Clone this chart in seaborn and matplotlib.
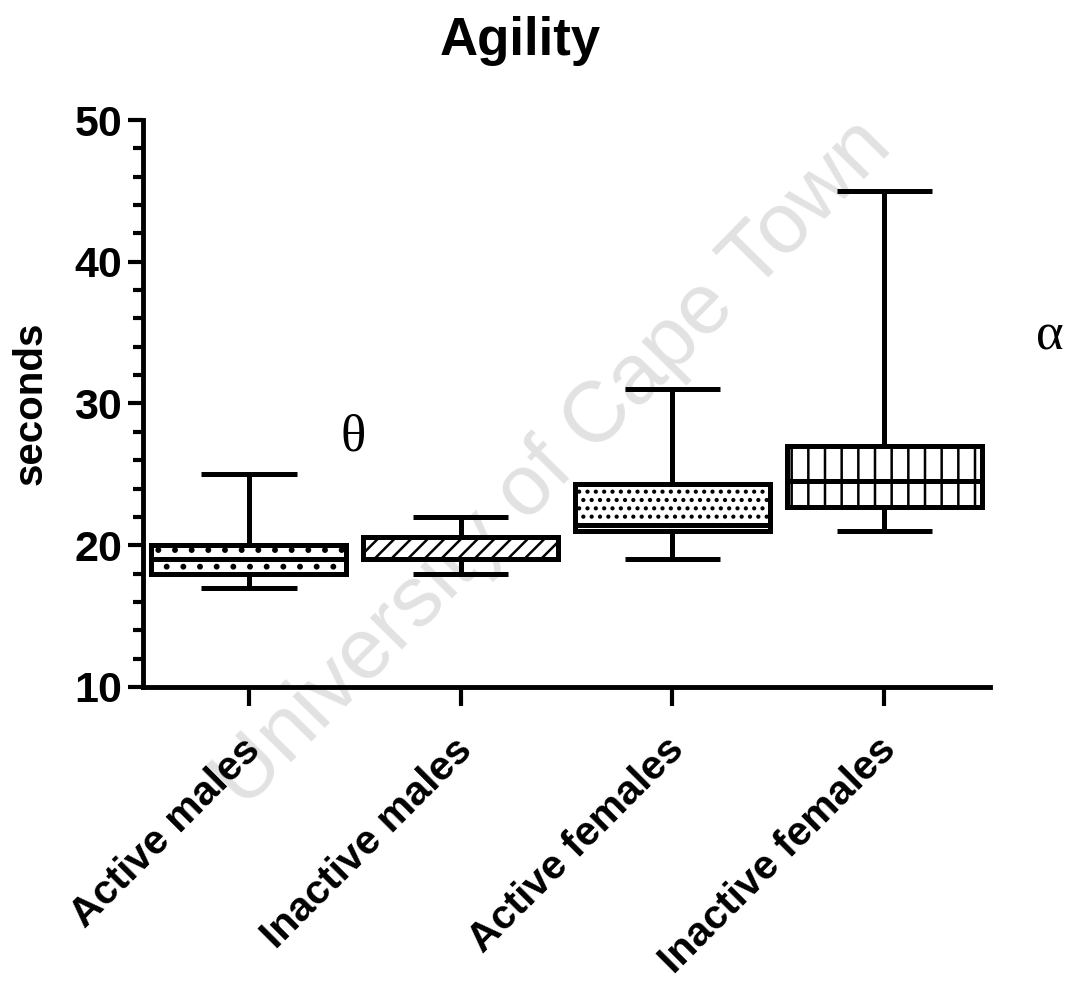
import numpy as np
import pandas as pd
import matplotlib
matplotlib.use("Agg")
import matplotlib.pyplot as plt
from matplotlib.ticker import MultipleLocator
from matplotlib.transforms import ScaledTranslation
import seaborn as sns

# ---- data (min, Q1, median, Q3, max per group) ----
groups = ["Active males", "Inactive males", "Active females", "Inactive females"]
mins = [17.0, 18.0, 19.0, 21.0]
q1s = [18.0, 19.0, 21.0, 22.7]
medians = [19.0, 19.0, 21.4, 24.5]
q3s = [20.0, 20.6, 24.3, 27.0]
maxs = [25.0, 22.0, 31.0, 45.0]
hatches = [".", "//", "..", "|"]
title = "Agility"
ylabel = "seconds"
yticks = [10, 20, 30, 40, 50]

rows = []
for g, a, b, c, d, e in zip(groups, mins, q1s, medians, q3s, maxs):
    for v in (a, b, c, d, e):
        rows.append({"group": g, "seconds": v})
df = pd.DataFrame(rows)

sns.set_style("ticks")
plt.rcParams["font.family"] = ["Liberation Sans", "DejaVu Sans"]
plt.rcParams["hatch.linewidth"] = 1.8
plt.rcParams["hatch.color"] = "black"
for k in ("text.color", "axes.labelcolor", "xtick.color", "ytick.color",
          "axes.edgecolor"):
    plt.rcParams[k] = "black"

fig = plt.figure(figsize=(10.75, 9.88), dpi=100)
ax = fig.add_axes([0.133, 0.3047, 0.788, 0.5738])

# watermark (behind the boxes)
ax.text(0.515, 0.53, "University of Cape Town", rotation=45.5,
        fontsize=62, color="#e2e2e2", ha="center", va="center",
        rotation_mode="anchor", transform=fig.transFigure, zorder=0.5,
        clip_on=False)

sns.boxplot(data=df, x="group", y="seconds", order=groups, whis=(0, 100),
            width=0.92, linewidth=3.6, color="white", linecolor="black",
            ax=ax)

for p, h in zip(ax.patches, hatches):
    p.set_hatch(h)
    p.set_edgecolor("black")
    p.set_facecolor("white")
    p.set_zorder(3)

# cap widths: half the box width
for ln in ax.lines:
    xd = np.asarray(ln.get_xdata(), dtype=float)
    yd = np.asarray(ln.get_ydata(), dtype=float)
    if len(xd) == 2 and yd[0] == yd[1]:
        cx = xd.mean()
        half = abs(xd[1] - xd[0]) / 2
        if half < 0.4:
            ln.set_xdata([cx - 0.225, cx + 0.225])
    ln.set_solid_capstyle("butt")
    ln.set_color("black")
    ln.set_zorder(4)

ax.set_ylim(10, 50)
ax.set_xlim(-0.5, 3.5)
ax.set_yticks(yticks)
ax.yaxis.set_minor_locator(MultipleLocator(2))
ax.tick_params(axis="y", which="major", length=11, width=3, labelsize=31,
               pad=4, direction="out")
ax.tick_params(axis="y", which="minor", length=7, width=3, direction="out")
ax.tick_params(axis="x", which="major", length=14, width=3, labelsize=29.5,
               pad=8, direction="out")
for lab in ax.get_yticklabels():
    lab.set_fontweight("bold")
ax.set_xticks(range(len(groups)))
ax.set_xticklabels(groups, rotation=45, ha="right", rotation_mode="anchor",
                   fontweight="bold")
off = ScaledTranslation(-0.08, -0.13, fig.dpi_scale_trans)
for lab in ax.get_xticklabels():
    lab.set_transform(lab.get_transform() + off)
ax.set_xlabel("")
ax.set_ylabel(ylabel, fontsize=29, fontweight="bold", labelpad=18)
fig.text(0.484, 0.958, title, fontsize=38, fontweight="bold",
         ha="center", va="center")

sns.despine(ax=ax)
for s in ("left", "bottom"):
    ax.spines[s].set_linewidth(3.5)

ax.text(0.49, 27.6, "θ", fontsize=38, family=["Liberation Serif", "DejaVu Serif"],
        ha="center", va="center")
ax.text(3.78, 34.7, "α", fontsize=38, family=["Liberation Serif", "DejaVu Serif"],
        ha="center", va="center", clip_on=False)

fig.savefig("out.png", dpi=100)
